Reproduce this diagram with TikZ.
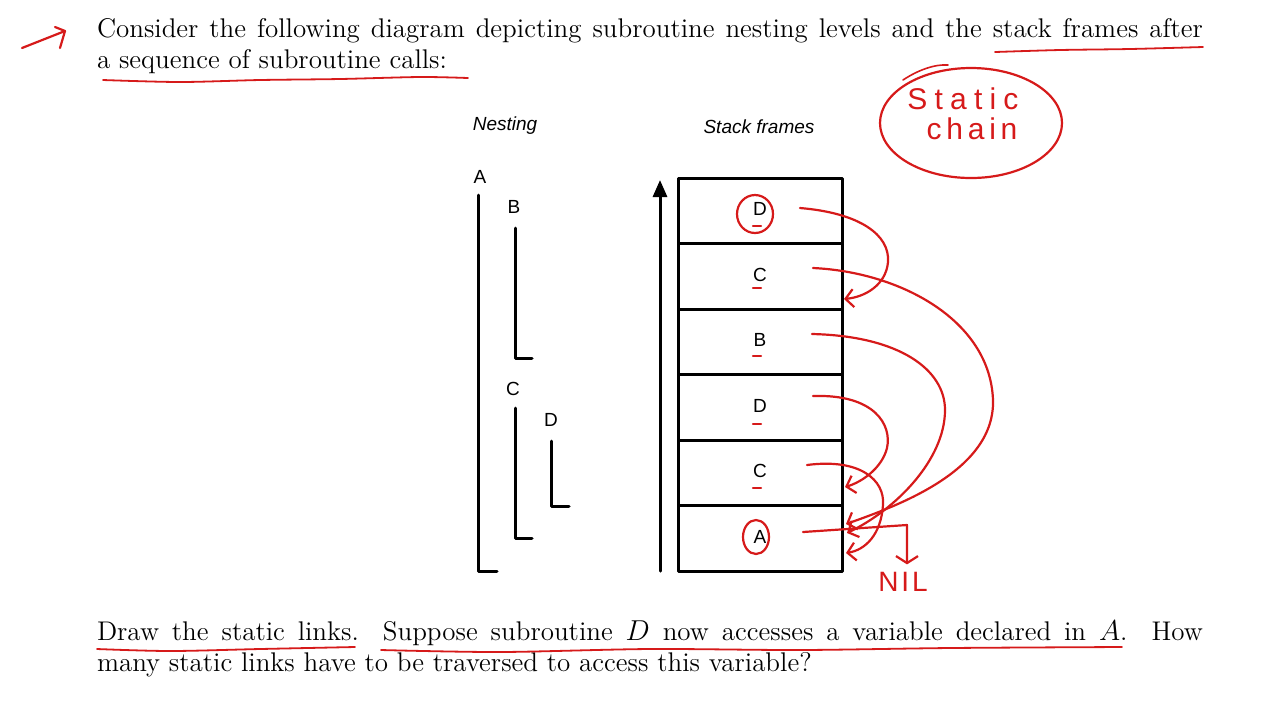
\documentclass[tikz,border=0pt]{standalone}
\usepackage{fontspec}
\newfontfamily\diagfont{Liberation Sans}
\newfontfamily\handfont{Liberation Sans}
\usetikzlibrary{positioning,calc,arrows.meta}
\definecolor{ink}{RGB}{214,26,26}

\begin{document}
\begin{tikzpicture}[x=0.5pt,y=-0.5pt,line join=round,line cap=round,>=stealth]
	\tikzset{every node/.style={inner sep=0pt,outer sep=0pt},
		lbl/.style={font=\diagfont\fontsize{9.5}{11}\selectfont},
		bar/.style={line width=1.5pt},
		frame/.style={draw,line width=1.5pt,minimum width=82pt,minimum height=32.75pt,font=\diagfont\fontsize{9.5}{11}\selectfont},
		link/.style={ink,line width=1.1pt,-{Straight Barb[length=4pt,width=9pt]}},
		uline/.style={ink,line width=0.9pt},
		para/.style={anchor=base west,text width=553pt,align=justify,font=\fontsize{13.5}{15.5}\selectfont}}
	\useasboundingbox (0,0) rectangle (1280,720);
	\node[para] (q1) at (97,37) {Consider the following diagram depicting subroutine nesting levels and the stack frames after\linebreak a sequence of subroutine calls:};
	\node[para] (q2) at (97,640) {Draw the static links.  Suppose subroutine $D$ now accesses a variable declared in $A$.  How\linebreak many static links have to be traversed to access this variable?};
	\node[lbl,font=\diagfont\itshape\fontsize{9.5}{11}\selectfont] (nest) at (505,126) {Nesting};
	\node[lbl,font=\diagfont\itshape\fontsize{9.5}{11}\selectfont] (stk) at (759,127) {Stack frames};
	\foreach \nm/\xx/\yy in {A/480/177,B/514/207,C/513/389,D/551/420}
	\node[lbl] (n\nm) at (\xx,\yy) {\nm};
	\foreach \xx/\yt/\yb/\xe in {478/195/571/497,515/228/358/532,515/408/538/532,551/441/506/569}
	\draw[bar] (\xx,\yt) |- (\xe,\yb);
	\draw[bar,-{Triangle[length=8.5pt,width=7pt]}] (660,571)--(660,180);
	\node[frame] (fA) at (760,538.5) {\raisebox{1.75pt}{A}};
	\node[frame,above=0pt of fA] (fC1) {\raisebox{1.75pt}{C}};
	\node[frame,above=0pt of fC1] (fD1) {\raisebox{1.75pt}{D}};
	\node[frame,above=0pt of fD1] (fB) {\raisebox{1.75pt}{B}};
	\node[frame,above=0pt of fB] (fC2) {\raisebox{1.75pt}{C}};
	\node[frame,above=0pt of fC2] (fD2) {\raisebox{1.75pt}{D}};
	\draw[ink,line width=1.1pt] (755,214) ellipse [x radius=9pt,y radius=9.5pt];
	\draw[ink,line width=1.1pt] (756,537) ellipse [x radius=6.5pt,y radius=8.5pt];
	\foreach \yy in {226,288,356,424,488}
	\draw[ink,line width=1.1pt] (753,\yy)--(761,\yy);
	\coordinate (sD2) at ($(fD2)+(40,-3)$);
	\coordinate (sC2) at ($(fC2)+(53,-8.5)$);
	\coordinate (sB) at ($(fB)+(52,-8)$);
	\coordinate (sD1) at ($(fD1)+(53,-11.5)$);
	\coordinate (sC1) at ($(fC1)+(47,-8)$);
	\coordinate (sA) at ($(fA)+(43,-6.5)$);
	\coordinate (eC2) at ($(fC2.east)+(2,22.5)$);
	\coordinate (eC1) at ($(fC1.east)+(3,14)$);
	\coordinate (eA1) at ($(fA.east)+(4,-14.5)$);
	\coordinate (eA2) at ($(fA.east)+(5,-5.5)$);
	\coordinate (eA3) at ($(fA.east)+(4,14.5)$);
	\draw[link] (sD2) .. controls (860,213) and (890,235) .. (888,262) .. controls (886,285) and (865,297) .. (eC2);
	\draw[link] (sC2) .. controls (900,272) and (990,320) .. (993,400) .. controls (995,470) and (900,505) .. (eA1);
	\draw[link] (sB) .. controls (900,336) and (945,370) .. (945,410) .. controls (945,460) and (895,510) .. (eA2);
	\draw[link] (sD1) .. controls (875,394) and (892,425) .. (887,448) .. controls (882,468) and (862,482) .. (eC1);
	\draw[link] (sC1) .. controls (860,458) and (885,480) .. (883,505) .. controls (881,535) and (865,550) .. (eA3);
	\node[font=\handfont\addfontfeatures{LetterSpace=10}\fontsize{14}{16}\selectfont,text=ink] (nil) at (903,582) {NIL};
	\coordinate (nilTip) at ($(nil.north)+(4,-8)$);
	\draw[ink,line width=1.1pt,-{Straight Barb[length=3.5pt,width=11pt]}] (sA) -- (907,525) -- (nilTip);
	\draw[ink,line width=1.1pt] (971,123) ellipse [x radius=45.5pt,y radius=27.5pt];
	\draw[ink,line width=0.8pt] (903,80) .. controls (918,70) and (935,64) .. (948,65);
	\node[font=\handfont\addfontfeatures{LetterSpace=24}\fontsize{15}{17}\selectfont,text=ink] (stat) at (963,99) {Static};
	\node[font=\handfont\addfontfeatures{LetterSpace=16}\fontsize{15}{17}\selectfont,text=ink] (chain) at (972,129) {chain};
	\draw[ink,line width=1.1pt] (22,48)--(65,31);
	\draw[ink,line width=1.1pt] (55,27)--(65,31)--(60,48);
	\draw[uline] plot[smooth] coordinates {(103,80) (180,82) (260,80) (340,79) (420,77) (468,78)};
	\draw[uline] plot[smooth] coordinates {(995,52) (1060,50) (1130,49) (1203,47)};
	\draw[uline] plot[smooth] coordinates {(97,649) (170,651) (260,649) (355,647)};
	\draw[uline] plot[smooth] coordinates {(381,650) (500,652) (650,649) (800,650) (950,648) (1122,647)};
\end{tikzpicture}
\end{document}
